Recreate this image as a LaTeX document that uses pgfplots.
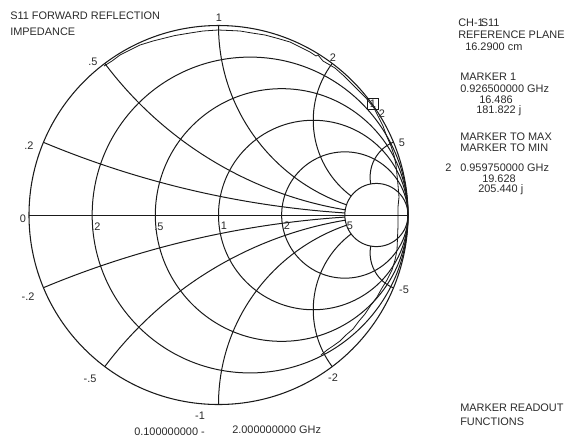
\documentclass[border=0pt]{standalone}
\usepackage{pgfplots}
\pgfplotsset{compat=1.18}
\usepackage{fontspec}
\setmainfont{Liberation Sans}
\definecolor{ink}{HTML}{1A1A1A}
\definecolor{txt}{HTML}{2A2A2A}
\begin{document}
\begin{tikzpicture}
\path[use as bounding box] (0pt,0pt) rectangle (433.5pt,-330pt);
\begin{axis}[at={(0pt,0pt)}, anchor=north west, scale only axis,
  width=433.5pt, height=330pt,
  xmin=-1.1530, xmax=1.8971, ymin=-1.1873, ymax=1.1346,
  axis lines=none, clip=false]
% reactance arcs, clipped to the chart and outside r=5 circle
\begin{scope}[even odd rule]
\clip (axis cs:0,0) circle[radius=1] (axis cs:0.83333,0) circle[radius=0.16667];
\draw[ink, line width=0.75pt] (axis cs:1,5) circle[radius=5];
\draw[ink, line width=0.75pt] (axis cs:1,-5) circle[radius=5];
\draw[ink, line width=0.75pt] (axis cs:1,2) circle[radius=2];
\draw[ink, line width=0.75pt] (axis cs:1,-2) circle[radius=2];
\draw[ink, line width=0.75pt] (axis cs:1,1) circle[radius=1];
\draw[ink, line width=0.75pt] (axis cs:1,-1) circle[radius=1];
\draw[ink, line width=0.75pt] (axis cs:1,0.5) circle[radius=0.5];
\draw[ink, line width=0.75pt] (axis cs:1,-0.5) circle[radius=0.5];
\draw[ink, line width=0.75pt] (axis cs:1,0.2) circle[radius=0.2];
\draw[ink, line width=0.75pt] (axis cs:1,-0.2) circle[radius=0.2];
\end{scope}
% resistance circles
\draw[ink, line width=0.75pt] (axis cs:0.16667,0) circle[radius=0.83333];
\draw[ink, line width=0.75pt] (axis cs:0.33333,0) circle[radius=0.66667];
\draw[ink, line width=0.75pt] (axis cs:0.5,0) circle[radius=0.5];
\draw[ink, line width=0.75pt] (axis cs:0.66667,0) circle[radius=0.33333];
\draw[ink, line width=0.75pt] (axis cs:0.83333,0) circle[radius=0.16667];
% real axis and rim
\draw[ink, line width=0.75pt] (axis cs:-1,0) -- (axis cs:1,0);
\draw[ink, line width=0.8pt] (axis cs:0,0) circle[radius=1];
% S11 trace
\addplot[ink, line width=0.6pt, mark=none] coordinates {
(-0.6042,0.7863) (-0.5620,0.8127) (-0.5198,0.8443) (-0.4670,0.8707)
(-0.4142,0.8971) (-0.3456,0.9182) (-0.2823,0.9340) (-0.2296,0.9472)
(-0.1504,0.9604) (-0.0818,0.9710) (-0.0026,0.9763) (0.0607,0.9736)
(0.1135,0.9710) (0.1768,0.9604) (0.2454,0.9499) (0.3140,0.9314)
(0.3773,0.9129) (0.4301,0.8865) (0.4828,0.8602) (0.5145,0.8391)
(0.5251,0.8443) (0.5515,0.8127) (0.6148,0.7757) (0.6623,0.7335)
(0.7098,0.6860) (0.7467,0.6491) (0.7784,0.6174) (0.7995,0.5910)
(0.8206,0.5646) (0.8417,0.5224) (0.8681,0.4697) (0.8892,0.4116)
(0.9103,0.3641) (0.9261,0.3166) (0.9367,0.2639) (0.9420,0.2111)
(0.9472,0.1583) (0.9525,0.0950) (0.9472,0.0422) (0.9472,-0.0053)
(0.9472,-0.0580) (0.9446,-0.1214) (0.9420,-0.1847) (0.9314,-0.2375)
(0.9156,-0.2902) (0.8892,-0.3430) (0.8628,-0.3852) (0.8364,-0.4327)
(0.8047,-0.4749) (0.7731,-0.5224) (0.7414,-0.5594) (0.7098,-0.6016)
(0.6728,-0.6332) (0.6412,-0.6649) (0.6042,-0.6913) (0.5726,-0.7124)
(0.5409,-0.7388)
};
% marker 1 box
\addplot[ink, line width=0.6pt, only marks, mark=square, mark size=4.1pt] coordinates {(0.8153,0.5858)};
\node[font=\fontsize{8.2}{10}\selectfont, text=txt, inner sep=0pt] at (axis cs:0.8153,0.5858) {1};
\end{axis}
\begin{scope}[x=0.75pt,y=-0.75pt, font=\fontsize{8.2}{10}\selectfont, text=txt]
\tikzset{lw/.style={anchor=west, inner sep=0pt}, lc/.style={anchor=center, inner sep=0pt}}
\node[lw] at (10,16) {S11 FORWARD REFLECTION};
\node[lw] at (10,32) {IMPEDANCE};
% reactance labels
\node[lc] at (219,18) {1};
\node[lc] at (333,58) {2};
\node[lc] at (402,143) {5};
\node[lc] at (93,62) {.5};
\node[lc] at (29,146) {.2};
\node[lc] at (23,219) {0};
\node[lc] at (28,297) {-.2};
\node[lc] at (90,379) {-.5};
\node[lc] at (200,416) {-1};
\node[lc] at (333,378) {-2};
\node[lc] at (404,290) {-5};
% resistance labels
\node[lc] at (96,227) {.2};
\node[lc] at (159,227) {.5};
\node[lc] at (224,226) {1};
\node[lc] at (287,226) {2};
\node[lc] at (350,226) {5};
% marker 2 label
\node[lc] at (382,114) {2};
% right panel
\node[lw] at (458,23) {CH-1\kern-2.2pt S11};
\node[lw] at (458,35) {REFERENCE PLANE};
\node[lw] at (465,47) {16.2900 cm};
\node[lw] at (460,77) {MARKER 1};
\node[lw] at (460,89) {0.926500000 GHz};
\node[lw] at (479,100) {16.486};
\node[lw] at (476,111) {181.822 j};
\node[lw] at (460,137) {MARKER TO MAX};
\node[lw] at (460,148) {MARKER TO MIN};
\node[lw] at (445,168) {2};
\node[lw] at (460,168) {0.959750000 GHz};
\node[lw] at (482,179) {19.628};
\node[lw] at (478,190) {205.440 j};
\node[lw] at (460,408) {MARKER READOUT};
\node[lw] at (460,422) {FUNCTIONS};
\node[lw] at (134,432) {0.100000000 -};
\node[lw] at (232,430) {2.000000000 GHz};
\end{scope}
\end{tikzpicture}
\end{document}
